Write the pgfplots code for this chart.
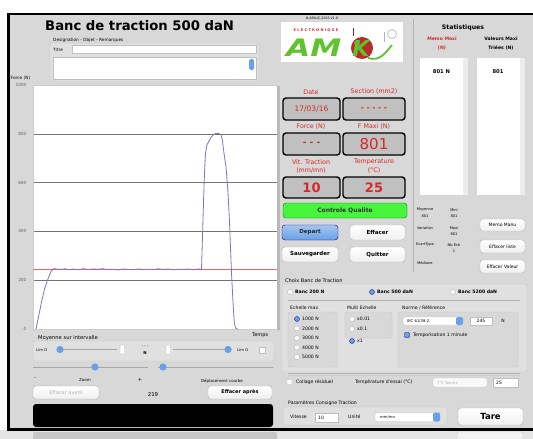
\documentclass[border=0pt]{standalone}
\usepackage{fontspec}
\setmainfont{DejaVu Sans}
\usepackage{graphicx}
\usepackage{pgfplots}
\pgfplotsset{compat=1.18}
\definecolor{uibg}{RGB}{216,216,216}
\definecolor{uigrp}{RGB}{224,224,224}
\definecolor{uired}{RGB}{214,40,40}
\definecolor{curve}{RGB}{125,118,185}
\definecolor{boxg}{RGB}{192,192,192}
\definecolor{btnblue}{RGB}{105,160,230}
\definecolor{qgreen}{RGB}{70,245,60}
\definecolor{amkgreen}{RGB}{95,195,45}
\definecolor{apple}{RGB}{185,45,40}
\newcommand{\fs}[1]{\fontsize{#1}{#1}\selectfont}
\pgfplotstableread{
x y
3 0
6 60
9 120
12 170
15 205
18 235
20.5 247
24 246
28 244
32 247
36 243
40 246
45 243
50 247
55 244
60 246
65 245
70 247
75 243
80 245
85 242
90 246
95 244
100 243
105 246
110 244
115 245
120 243
125 247
130 244
135 246
140 243
145 245
150 244
155 246
160 243
165 246
168.5 245
169.5 380
170.5 520
171.5 640
172.5 720
174 755
176 770
178 785
180 795
182 800
184 802
186 801
188 796
189.5 770
191 720
193 665
195 560
196.5 440
197.5 330
198.7 214
200 110
201.3 25
202.5 5
204 0
205 0
}\forcedata
\begin{document}
\begin{tikzpicture}
\begin{scope}[x=1pt,y=-1pt,
  lbl/.style={font=\fs{5}, inner sep=0pt, anchor=base west},
  grp/.style={rounded corners=2pt, fill=uigrp, draw=gray!45, line width=0.4pt},
  field/.style={fill=white, draw=gray!50, line width=0.3pt}]
\useasboundingbox (0,0) rectangle (533,439);
\fill[white] (0,0) rectangle (533,13);
\fill[uibg] (8,13) rectangle (533,430);
\fill[gray!20] (0,430) rectangle (533,439);
\fill[gray!45, rounded corners=2pt] (33,432) rectangle (277,441);
\fill[white!90!gray, rounded corners=2pt, draw=gray!40] (457,432) rectangle (523,441);
% title area
\node[anchor=base west, font=\bfseries\fs{13.2}, inner sep=0pt] at (45,30) {Banc de traction 500 daN};
\node[lbl, font=\fs{4.3}] at (53,41) {Designation - Objet - Remarques};
\draw[grp] (50,43) rectangle (259,81);
\node[lbl, font=\fs{4.3}] at (53,51) {Titre};
\draw[field] (72,45.5) rectangle (256,53.5);
\draw[field] (53,57) rectangle (256,79);
\fill[btnblue, rounded corners=1.5pt] (249,59) rectangle (254,70);
\end{scope}

\begin{axis}[at={(33pt,-329pt)}, anchor=south west, scale only axis,
  width=244pt, height=244pt,
  xmin=0, xmax=244, ymin=0, ymax=1000,
  ytick={0,200,...,1000}, xtick=\empty,
  ymajorgrids, grid style={black!55, line width=0.6pt},
  axis background/.style={fill=white},
  axis line style={draw=gray!40},
  major tick length=0pt,
  tick label style={font=\fs{4.3}, text=black!60},
  yticklabel style={xshift=-3pt},
  /pgf/number format/1000 sep={},
  /pgf/number format/assume math mode=true,
  clip=true]
\addplot[uired!70, line width=0.5pt] coordinates {(0,245) (244,245)};
\addplot[curve, line width=0.8pt] table[x=x,y=y] {\forcedata};
\end{axis}

\begin{scope}[x=1pt,y=-1pt,
  lbl/.style={font=\fs{5}, inner sep=0pt, anchor=base west},
  clbl/.style={font=\fs{5}, inner sep=0pt, anchor=center},
  rlbl/.style={font=\fs{6.3}, text=uired, inner sep=0pt, anchor=center},
  vbox/.style={rounded corners=3pt, fill=boxg, draw=black, line width=1.4pt},
  btn/.style={rounded corners=3pt, top color=white, bottom color=gray!12, draw=gray!60, line width=0.4pt},
  grp/.style={rounded corners=2pt, fill=uigrp, draw=gray!45, line width=0.4pt},
  field/.style={fill=white, draw=gray!50, line width=0.3pt},
  radio/.style={circle, fill=white, draw=gray!60, line width=0.3pt, minimum size=5pt, inner sep=0pt},
  radsel/.style={circle, fill=btnblue, draw=blue!50!black, line width=0.3pt, minimum size=5pt, inner sep=0pt}]
% frame
\fill[black] (7,12.5) rectangle (533,15);
\fill[black] (7,12.5) rectangle (10,430);
\fill[black] (7,427.5) rectangle (533,430.5);
\fill[gray!55] (277,86) rectangle (280,330);
\node[lbl, font=\fs{4.3}] at (10.5,79.5) {Force (N)};
\node[lbl, font=\fs{5.2}] at (38,339) {Moyenne sur intervalle};
\node[lbl, font=\fs{5}] at (252,336) {Temps};
% sliders group
\draw[grp] (33,341) rectangle (274,361);
\node[lbl, font=\fs{3.8}] at (36,351) {Lim D};
\draw[gray!70, line width=0.8pt] (60,349.5) -- (117,349.5);
\fill[btnblue] (60,349.5) circle (3.6);
\draw[field, rounded corners=1pt] (120,345) rectangle (124.5,354);
\node[clbl, font=\fs{4}] at (145,346.5) {- - -};
\node[clbl, font=\bfseries\fs{4}] at (145,353) {N};
\draw[field, rounded corners=1pt] (166,345) rectangle (170.5,354);
\draw[gray!70, line width=0.8pt] (173,349.5) -- (228,349.5);
\fill[btnblue] (228,349.5) circle (3.6);
\node[lbl, font=\fs{3.8}] at (237,351) {Lim G};
\draw[field] (259,347) rectangle (265,353);
\draw[gray!70, line width=0.8pt] (33,367) -- (148,367);
\fill[btnblue] (95,367) circle (3.6);
\draw[gray!70, line width=0.8pt] (158,367) -- (273,367);
\fill[btnblue] (163,367) circle (3.6);
\node[clbl, font=\fs{5}] at (35,379) {-};
\node[clbl, font=\fs{4}] at (85,380) {Zoom};
\node[clbl, font=\fs{5}] at (140,379.5) {+};
\node[clbl, font=\fs{4}] at (222,381) {Déplacement courbe};
\draw[btn] (33,386) rectangle (99,399);
\node[clbl, font=\fs{5}, text=gray!60] at (66,392.5) {Effacer avant};
\node[clbl, font=\fs{5.5}] at (153,394) {219};
\draw[btn] (208,386) rectangle (272,399);
\node[clbl, font=\bfseries\fs{5}] at (240,392.5) {Effacer après};
\fill[black, rounded corners=3pt] (33,404) rectangle (273,427);
% logo
\node[clbl, font=\fs{3.2}] at (322,18.5) {B-AEN-IC-2015-V1.0};
\fill[white] (281,22) rectangle (403,62);
\node[clbl, font=\bfseries\fs{3.6}, text=uired] at (316,30) {E L E C T R O N I Q U E};
\draw[apple!80!black, line width=0.9pt] (353,28) -- (353,36);
\fill[apple] (362,48) circle (11);
\fill[apple!70!white] (357,43) circle (3);
\node[anchor=base west, inner sep=0pt, font=\bfseries\itshape\fs{24}, text=amkgreen] at (286,56) {\scalebox{1.3}[1]{AM}};
\node[anchor=base, inner sep=0pt, font=\bfseries\itshape\fs{22}, text=amkgreen] at (361,56) {K};
\draw[amkgreen, line width=1.8pt] (368,58) .. controls (380,62) and (386,52) .. (392,45);
\draw[gray!60, line width=0.6pt] (392,34) circle (4.5);
\draw[gray!60, line width=0.6pt] (384,32) -- (384,42);
% value panel
\node[rlbl] at (311,92) {Date};
\node[rlbl] at (374,92) {Section (mm2)};
\draw[vbox] (283,98) rectangle (340,120);
\draw[vbox] (343,98) rectangle (405,120);
\node[clbl, font=\fs{7.5}, text=uired] at (311.5,109) {17/03/16};
\node[clbl, font=\bfseries\fs{7.5}, text=uired] at (374,109) {- - - - -};
\node[rlbl] at (311,127) {Force (N)};
\node[rlbl] at (374,127) {F Maxi (N)};
\draw[vbox] (283,133) rectangle (340,155);
\draw[vbox] (343,133) rectangle (405,155);
\node[clbl, font=\bfseries\fs{9}, text=uired] at (311.5,144) {- - -};
\node[clbl, font=\fs{15}, text=uired] at (374,144.5) {801};
\node[rlbl] at (311,162) {Vit. Traction};
\node[rlbl] at (311,170.5) {(mm/mn)};
\node[rlbl] at (374,162) {Temperature};
\node[rlbl] at (374,170.5) {(°C)};
\draw[vbox] (283,177) rectangle (340,198);
\draw[vbox] (343,177) rectangle (405,198);
\node[clbl, font=\bfseries\fs{13}, text=uired] at (311.5,188) {10};
\node[clbl, font=\bfseries\fs{13}, text=uired] at (374,188) {25};
\draw[rounded corners=3pt, fill=qgreen, draw=green!50!black, line width=0.4pt] (283,203) rectangle (407,218);
\node[clbl, font=\bfseries\fs{6}, text=black!80] at (345,210.5) {Controle Qualite};
\draw[rounded corners=3pt, top color=btnblue!60, bottom color=btnblue, draw=blue!60!black, line width=0.4pt] (282,225) rectangle (338,240);
\node[clbl, font=\bfseries\fs{5.5}, text=black!85] at (310,232.5) {Depart};
\draw[btn] (350,225) rectangle (405,240);
\node[clbl, font=\bfseries\fs{5.5}] at (377.5,232.5) {Effacer};
\draw[btn] (282,247) rectangle (338,262);
\node[clbl, font=\bfseries\fs{5.5}] at (310,254.5) {Sauvegarder};
\draw[btn] (350,247) rectangle (405,262);
\node[clbl, font=\bfseries\fs{5.5}] at (377.5,254.5) {Quitter};
% statistics
\draw[gray!60, line width=0.6pt] (413,19) -- (413,272);
\node[clbl, font=\bfseries\fs{6.2}] at (463,28) {Statistiques};
\node[clbl, font=\bfseries\fs{4.6}, text=uired] at (442,39) {Memo Maxi};
\node[clbl, font=\bfseries\fs{4.6}, text=uired] at (442,48) {(N)};
\node[clbl, font=\bfseries\fs{4.6}] at (501,39) {Valeurs Maxi};
\node[clbl, font=\bfseries\fs{4.6}] at (501,48) {Triées (N)};
\fill[white] (420,58) rectangle (463,195);
\fill[gray!15] (463,58) rectangle (468,195);
\fill[white] (477,58) rectangle (520,195);
\fill[gray!15] (520,58) rectangle (525,195);
\node[clbl, font=\bfseries\fs{5.2}] at (441.5,72) {801 N};
\node[clbl, font=\bfseries\fs{5.2}] at (498,72) {801};
\node[clbl, font=\fs{3.6}] at (425,210) {Moyenne};
\node[clbl, font=\fs{3.6}] at (425,216.5) {801};
\node[clbl, font=\fs{3.6}] at (454,210) {Mini};
\node[clbl, font=\fs{3.6}] at (454,216.5) {801};
\node[clbl, font=\fs{3.6}] at (425,228) {Variation};
\node[clbl, font=\fs{3.6}] at (454,228) {Maxi};
\node[clbl, font=\fs{3.6}] at (454,234) {801};
\node[clbl, font=\fs{3.6}] at (425,245) {EcartType};
\node[clbl, font=\fs{3.6}] at (454,245) {Nb Ech};
\node[clbl, font=\fs{3.6}] at (454,251) {1};
\node[clbl, font=\fs{3.6}] at (425,263) {Médiane};
\draw[btn] (480,219) rectangle (525,231);
\node[clbl, font=\fs{4.5}] at (502.5,225) {Memo Manu};
\draw[btn] (480,240) rectangle (525,253);
\node[clbl, font=\fs{4.5}] at (502.5,246.5) {Effacer liste};
\draw[btn] (480,260) rectangle (525,273);
\node[clbl, font=\fs{4.5}] at (502.5,266.5) {Effacer Valeur};
% choix banc
\node[lbl, font=\fs{5}] at (285,282) {Choix Banc de Traction};
\draw[grp] (282,284) rectangle (527,372);
\node[radio] at (290,292) {};
\node[lbl, font=\bfseries\fs{4.6}] at (295,293.7) {Banc 200 N};
\node[radsel] at (372,292) {};
\node[lbl, font=\bfseries\fs{4.6}] at (377,293.7) {Banc 500 daN};
\node[radio] at (453,292) {};
\node[lbl, font=\bfseries\fs{4.6}] at (458,293.7) {Banc 5200 daN};
\draw[gray!60, line width=0.6pt] (288,300) -- (520,300);
\node[lbl, font=\fs{4.6}] at (290,309.5) {Echelle max};
\node[lbl, font=\fs{4.6}] at (347,309.5) {Multi Echelle};
\node[lbl, font=\fs{4.6}] at (402,309.5) {Norme / Référence};
\draw[grp, fill=uibg] (288,312) rectangle (337,367);
\draw[grp, fill=uibg] (345,312) rectangle (392,338);
\draw[grp, fill=uibg] (398,312) rectangle (518,367);
\node[radsel] at (297,319) {};
\node[lbl, font=\fs{4.6}] at (302,320.7) {1000 N};
\node[radio] at (297,328.5) {};
\node[lbl, font=\fs{4.6}] at (302,330.2) {2000 N};
\node[radio] at (297,338) {};
\node[lbl, font=\fs{4.6}] at (302,339.7) {3000 N};
\node[radio] at (297,347.5) {};
\node[lbl, font=\fs{4.6}] at (302,349.2) {4000 N};
\node[radio] at (297,357) {};
\node[lbl, font=\fs{4.6}] at (302,358.7) {5000 N};
\node[radio] at (352,319) {};
\node[lbl, font=\fs{4.6}] at (357,320.7) {x0.01};
\node[radio] at (352,329) {};
\node[lbl, font=\fs{4.6}] at (357,330.7) {x0.1};
\node[radsel] at (352,341) {};
\node[lbl, font=\fs{4.6}] at (357,342.7) {x1};
\draw[rounded corners=2pt, fill=white, draw=gray!50, line width=0.3pt] (403,317) rectangle (463,325);
\fill[btnblue, rounded corners=2pt] (456,317) rectangle (463,325);
\node[lbl, font=\fs{3.8}] at (407,322.5) {IEC 61/38-2};
\draw[field] (470,317) rectangle (492,325);
\node[clbl, font=\fs{4.5}] at (481,321) {245};
\node[clbl, font=\fs{4.5}] at (503,321) {N};
\draw[fill=btnblue, draw=blue!50!black, rounded corners=0.8pt, line width=0.3pt] (404.5,332.5) rectangle (409.5,337.5);
\node[lbl, font=\fs{4.6}] at (413,336.7) {Temporisation 1 minute};
\draw[gray!60, line width=0.6pt] (288,373) -- (520,373);
\draw[gray!40, line width=0.4pt] (288,375) -- (520,375);
\draw[field, rounded corners=0.8pt] (287,379.5) rectangle (292,384.5);
\node[lbl, font=\fs{4.6}] at (296,383.7) {Collage résiduel};
\node[lbl, font=\fs{4.6}] at (355,383.7) {Température d'essai (°C)};
\draw[rounded corners=2pt, fill=white!95!gray, draw=gray!40, line width=0.3pt] (433,378) rectangle (487,387);
\node[lbl, font=\fs{3.8}, text=gray!60] at (437,384) {T°C Norme};
\draw[field] (493,378) rectangle (518,387);
\node[lbl, font=\fs{4.5}] at (496,384.2) {25};
\node[lbl, font=\fs{4.6}] at (288,404.5) {Paramètres Consigne Traction};
\draw[grp] (283,407) rectangle (447,425);
\node[lbl, font=\fs{4.6}] at (290,418.7) {Vitesse};
\draw[field] (315,413) rectangle (338,422);
\node[lbl, font=\fs{4.5}] at (318,419.2) {10};
\node[lbl, font=\fs{4.6}] at (348,418.7) {Unité};
\draw[rounded corners=2pt, fill=white, draw=gray!50, line width=0.3pt] (375,412.5) rectangle (440,421.5);
\fill[btnblue, rounded corners=2pt] (433,412.5) rectangle (440,421.5);
\node[lbl, font=\fs{3.8}] at (380,418.5) {mm/mn};
\draw[btn] (458,408) rectangle (523,425);
\node[clbl, font=\bfseries\fs{8.5}] at (490.5,416.5) {Tare};
\end{scope}
\end{tikzpicture}
\end{document}
